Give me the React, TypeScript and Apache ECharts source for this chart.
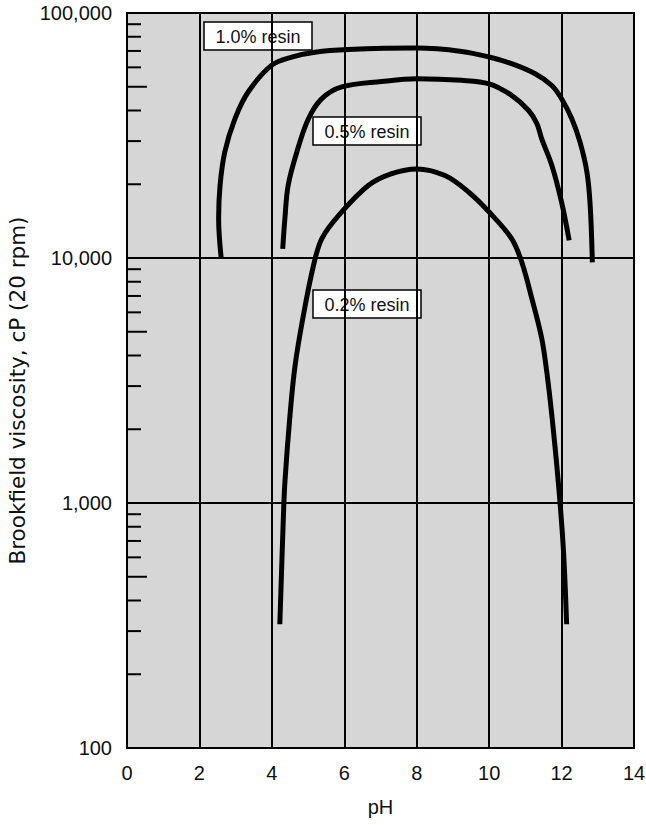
import React, { useEffect, useRef } from "react";
import * as echarts from "echarts";

const xTicks = [0, 2, 4, 6, 8, 10, 12, 14];
const yMinorTicks = [
  200, 300, 400, 500, 600, 700, 800, 900,
  2000, 3000, 4000, 5000, 6000, 7000, 8000, 9000,
  20000, 30000, 40000, 50000, 60000, 70000, 80000, 90000,
];

const resin10: [number, number][] = [
  [2.6, 10000], [2.53, 14500], [2.57, 19800], [2.7, 27100], [2.98, 37000],
  [3.35, 47700], [3.99, 61100], [4.55, 66100], [5.19, 69200], [6.11, 70900],
  [8.0, 71900], [9.24, 69700], [10.0, 66100], [10.62, 62100], [11.27, 56500],
  [11.73, 50600], [12.0, 44700], [12.28, 37100], [12.51, 29700], [12.7, 22400],
  [12.79, 16400], [12.85, 9600],
];

const resin05: [number, number][] = [
  [4.3, 10900], [4.36, 14500], [4.45, 19800], [4.69, 27100], [5.01, 37000],
  [5.38, 44700], [5.93, 49900], [7.03, 52500], [8.0, 53900], [9.24, 53100],
  [10.0, 51400], [10.62, 46100], [11.09, 40000], [11.32, 35300], [11.45, 30700],
  [11.73, 23900], [12.0, 16900], [12.21, 11800],
];

const resin02: [number, number][] = [
  [4.22, 320], [4.32, 890], [4.36, 1215], [4.5, 2275], [4.64, 3630],
  [4.87, 5830], [5.15, 9330], [5.38, 12000], [5.84, 14900], [6.67, 19800],
  [7.31, 22100], [8.0, 23100], [8.78, 21700], [9.43, 18600], [10.0, 15400],
  [10.62, 12000], [10.9, 9630], [11.18, 6830], [11.45, 4720], [11.59, 3440],
  [11.73, 2285], [11.91, 1215], [12.05, 647], [12.14, 320],
];

const seriesNames = ["1.0% resin", "0.5% resin", "0.2% resin"];

const FONT = "'Liberation Sans', Arial, Helvetica, sans-serif";
const WIDE_FONT = "'DejaVu Sans', 'Liberation Sans', sans-serif";

export default function App() {
  const ref = useRef<HTMLDivElement>(null);
  useEffect(() => {
    if (!ref.current) return;
    const chart = echarts.init(ref.current, null, { renderer: "svg" });
    const lineSeries = (name: string, data: [number, number][]) => ({
      name,
      type: "line",
      data,
      smooth: 0.35,
      showSymbol: false,
      symbol: "none",
      lineStyle: { color: "#000", width: 5 },
      z: 5,
    });
    const label = (text: string, x: number, y: number) => ({
      type: "group",
      x,
      y,
      z: 100,
      children: [
        {
          type: "rect",
          shape: { x: 0, y: 0, width: 108, height: 28 },
          style: { fill: "#fff", stroke: "#000", lineWidth: 1.5 },
        },
        {
          type: "text",
          x: 54,
          y: 14.5,
          style: {
            text,
            fill: "#111",
            font: `18px ${FONT}`,
            align: "center",
            verticalAlign: "middle",
          },
        },
      ],
    });
    chart.setOption({
      animation: false,
      textStyle: { fontFamily: FONT },
      grid: {
        left: 127,
        right: 12,
        top: 13,
        bottom: 77,
        containLabel: false,
        outerBoundsMode: "none",
        show: true,
        backgroundColor: "#d6d6d6",
        borderColor: "#000",
        borderWidth: 2,
      },
      xAxis: {
        type: "value",
        min: xTicks[0],
        max: xTicks[xTicks.length - 1],
        interval: 2,
        name: "pH",
        nameLocation: "middle",
        nameGap: 49,
        nameTextStyle: { fontSize: 20, color: "#111", fontFamily: FONT },
        axisLine: { show: true, lineStyle: { color: "#000", width: 2 } },
        axisTick: { show: false },
        splitLine: { show: true, lineStyle: { color: "#000", width: 2 } },
        axisLabel: { fontSize: 20, color: "#111", margin: 15, fontFamily: FONT },
      },
      yAxis: {
        type: "log",
        logBase: 10,
        min: 100,
        max: 100000,
        name: "Brookfield viscosity, cP (20 rpm)",
        nameLocation: "middle",
        nameGap: 90,
        nameTextStyle: {
          fontSize: 21.5,
          color: "#111",
          fontFamily: WIDE_FONT,
          padding: [0, 20, 0, 0],
        },
        axisLine: { show: true, lineStyle: { color: "#000", width: 2 } },
        axisTick: { show: false },
        splitLine: { show: true, lineStyle: { color: "#000", width: 2 } },
        axisLabel: {
          fontSize: 20,
          color: "#111",
          margin: 15,
          fontFamily: FONT,
          formatter: (v: number) => Math.round(v).toLocaleString("en-US"),
        },
      },
      series: [
        {
          type: "custom",
          data: yMinorTicks.map((v) => [0, v]),
          silent: true,
          z: 4,
          renderItem: (params: any, api: any) => {
            const v = api.value(1);
            const p = api.coord([0, v]);
            const mag = Math.pow(10, Math.floor(Math.log10(v) + 1e-9));
            const isFive = Math.round(v / mag) === 5;
            const len = isFive ? 20 : 14;
            return {
              type: "line",
              shape: { x1: p[0], y1: p[1], x2: p[0] + len, y2: p[1] },
              style: { stroke: "#000", lineWidth: 2 },
            };
          },
        },
        lineSeries(seriesNames[0], resin10),
        lineSeries(seriesNames[1], resin05),
        lineSeries(seriesNames[2], resin02),
      ],
      graphic: [
        label(seriesNames[0], 204, 22),
        label(seriesNames[1], 313, 117),
        label(seriesNames[2], 313, 290),
      ],
    });
    return () => chart.dispose();
  }, []);
  return (
    <div
      ref={ref}
      style={{ position: "absolute", left: 0, top: 0, width: 646, height: 825 }}
    />
  );
}
